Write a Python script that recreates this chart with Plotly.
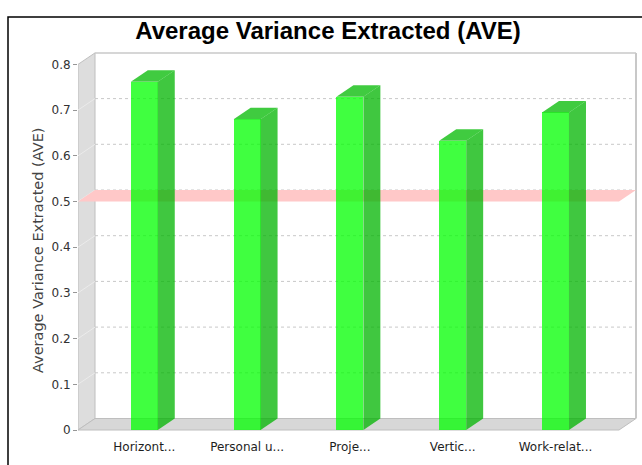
import plotly.graph_objects as go

# Constructs and their AVE scores
categories = ["Horizont...", "Personal u...", "Proje...", "Vertic...", "Work-relat..."]
ave_values = [0.762, 0.680, 0.729, 0.633, 0.695]
y_ticks = [0, 0.1, 0.2, 0.3, 0.4, 0.5, 0.6, 0.7, 0.8]
threshold = 0.5

W, H = 642, 465
# plot-area geometry (pixels)
L, R, T, B = 78, 637, 52, 432
px_per_cat = 102.8
first_cat_px = 144.3
px_per_unit = 457.0
zero_px = 430.0

x_min = (L - first_cat_px) / px_per_cat
x_max = (R - first_cat_px) / px_per_cat
y_min = (zero_px - B) / px_per_unit
y_max = (zero_px - T) / px_per_unit

# 3D depth offsets in data units
DX = 17 / px_per_cat
DY = 11.5 / px_per_unit
HALF = 0.131
wall_right = x_max - 1 / px_per_cat
top_val = y_ticks[-1]

SANS = "DejaVu Sans, Verdana, sans-serif"
TITLE_FONT = "Liberation Sans, Arial, sans-serif"

shapes = []


def poly(pts, fill, line="rgba(0,0,0,0)", width=0, layer="below", opacity=1):
    d = "M " + " L ".join(f"{x},{y}" for x, y in pts) + " Z"
    return dict(type="path", path=d, xref="x", yref="y", fillcolor=fill,
                line=dict(color=line, width=width), layer=layer, opacity=opacity)


# left wall and floor
shapes.append(poly([(x_min, 0), (x_min, top_val), (x_min + DX, top_val + DY), (x_min + DX, DY)],
                   "rgb(221,221,221)", "rgb(190,190,190)", 1))
shapes.append(poly([(x_min, 0), (x_min + DX, DY), (wall_right, DY), (wall_right - DX, 0)],
                   "rgb(215,215,215)", "rgb(190,190,190)", 1))

# gridlines on back wall + diagonals on the left wall
for v in y_ticks[1:-1]:
    shapes.append(dict(type="line", xref="x", yref="y", x0=x_min + DX, x1=wall_right,
                       y0=v + DY, y1=v + DY, layer="below",
                       line=dict(color="rgb(200,200,200)", width=1, dash="3px,3px")))
    shapes.append(dict(type="line", xref="x", yref="y", x0=x_min, x1=x_min + DX,
                       y0=v, y1=v + DY, layer="below",
                       line=dict(color="rgb(235,235,235)", width=1)))

# back wall outline (top and right edges)
shapes.append(dict(type="line", xref="x", yref="y", x0=x_min + DX, x1=wall_right,
                   y0=top_val + DY, y1=top_val + DY, layer="below",
                   line=dict(color="rgb(200,200,200)", width=1.5)))
shapes.append(dict(type="line", xref="x", yref="y", x0=wall_right, x1=wall_right,
                   y0=DY, y1=top_val + DY, layer="below",
                   line=dict(color="rgb(200,200,200)", width=2)))

# threshold plane at 0.5
shapes.append(poly([(x_min, threshold), (x_min + DX, threshold + DY),
                    (wall_right, threshold + DY), (wall_right - DX, threshold)],
                   "rgb(255,200,200)"))

# bar side and top faces
for i, v in enumerate(ave_values):
    xl, xr = i - HALF, i + HALF
    shapes.append(poly([(xr, 0), (xr + DX, DY), (xr + DX, v + DY), (xr, v)],
                       "rgb(0,180,0)", layer="above", opacity=0.75))
    shapes.append(poly([(xl, v), (xl + DX, v + DY), (xr + DX, v + DY), (xr, v)],
                       "rgb(0,185,0)", layer="above", opacity=0.75))


# outer frame (left and top edges)
def px_x(p):
    return (p - L) / (R - L)


def px_y(p):
    return (B - p) / (B - T)


shapes.append(dict(type="path", xref="paper", yref="paper",
                   path=f"M {px_x(8)},{px_y(470)} L {px_x(8)},{px_y(17)} L {px_x(650)},{px_y(17)}",
                   line=dict(color="black", width=1.5), layer="above"))

fig = go.Figure()
fig.add_trace(go.Bar(
    x=list(range(len(categories))), y=ave_values, width=2 * HALF,
    marker=dict(color="rgba(0,255,0,0.75)", line=dict(width=0)),
    hoverinfo="skip", showlegend=False,
))

# vertical axis caption
fig.add_annotation(
    text="Average Variance Extracted (AVE)", textangle=-90,
    xref="paper", yref="paper", x=px_x(38), y=px_y(251),
    xanchor="center", yanchor="middle", showarrow=False,
    font=dict(family=SANS, size=14.5, color="rgb(68,68,68)"),
)

fig.update_layout(
    width=W, height=H,
    margin=dict(l=L, r=W - R, t=T, b=H - B, pad=0),
    paper_bgcolor="white", plot_bgcolor="white",
    shapes=shapes,
    bargap=0,
    title=dict(text="<b>Average Variance Extracted (AVE)</b>",
               x=328 / W, xanchor="center", xref="container",
               y=1 - 31 / H, yanchor="middle", yref="container",
               font=dict(family=TITLE_FONT, size=24, color="black")),
    xaxis=dict(range=[x_min, x_max], tickvals=list(range(len(categories))), ticktext=categories,
               showgrid=False, zeroline=False, showline=False, ticks="",
               ticklabelstandoff=6,
               tickfont=dict(family=SANS, size=12, color="rgb(30,30,30)"),
               fixedrange=True),
    yaxis=dict(range=[y_min, y_max], tickvals=y_ticks,
               ticktext=["0" if t == 0 else f"{t:.1f}" for t in y_ticks],
               showgrid=False, zeroline=False, showline=False,
               ticks="outside", ticklen=4, tickcolor="rgb(150,150,150)",
               tickfont=dict(family=SANS, size=12, color="rgb(50,50,50)"),
               fixedrange=True),
)

fig.write_html("out.html")
